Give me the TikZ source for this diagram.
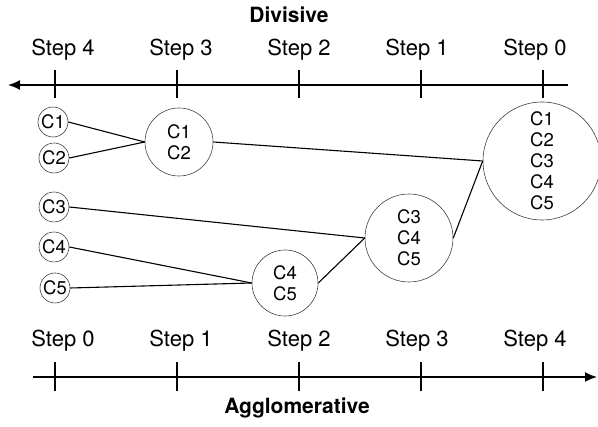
\documentclass[tikz,border=0pt]{standalone}
\usepackage{fontspec}
\setmainfont{TeX Gyre Heros}
\usetikzlibrary{arrows.meta, positioning}
\tikzset{
    clus/.style={draw=black!75, circle, inner sep=0pt, line width=0.6pt, align=center, font=\fontsize{18.5}{21}\selectfont},
    eje/.style={line width=1.6pt, -{Latex[length=12pt, width=10pt]}},
    marca/.style={line width=1.6pt},
    enlace/.style={line width=1.1pt},
    paso/.style={font=\fontsize{22}{26}\selectfont},
    titulo/.style={font=\fontsize{21}{25}\selectfont\bfseries},
}

\begin{document}
\begin{tikzpicture}[x=1pt, y=-1pt]
\useasboundingbox (0,0) rectangle (598,427);
% Divisive axis
\node[titulo] (div) at (289,15) {Divisive};
\coordinate (supD) at (568,85);
\coordinate (supI) at (8,85);
\draw[eje] (supD) -- (supI);
\foreach \x in {55,177,299,421,543} {
    \draw[marca] (\x,70) -- (\x,98);
}
\foreach \n/\x in {4/63, 3/181, 2/299, 1/417, 0/535} {
    \node[paso] (sup\n) at (\x,50) {Step \n};
}
% Agglomerative axis
\coordinate (infI) at (33,377);
\coordinate (infD) at (597,377);
\draw[eje] (infI) -- (infD);
\foreach \x in {55,177,299,421,543} {
    \draw[marca] (\x,362) -- (\x,391);
}
\foreach \n/\x in {0/63, 1/181, 2/299, 3/417, 4/535} {
    \node[paso] (inf\n) at (\x,341) {Step \n};
}
\node[titulo] (agl) at (297,408) {Agglomerative};
% clusters
\node[clus, minimum size=30pt] (c1) at (53,122) {C1};
\node[clus, minimum size=30pt] (c2) at (54,158) {C2};
\node[clus, minimum size=30pt] (c3) at (54,207) {C3};
\node[clus, minimum size=30pt] (c4) at (54,247) {C4};
\node[clus, minimum size=30pt] (c5) at (55,288) {C5};
\node[clus, minimum size=68pt] (c12) at (179,142) {C1\\C2};
\node[clus, minimum size=66pt] (c45) at (285,283) {C4\\C5};
\node[clus, minimum size=88pt] (c345) at (409,238) {C3\\C4\\C5};
\node[clus, minimum size=118pt] (todo) at (542,161) {C1\\C2\\C3\\C4\\C5};
% merges
\draw[enlace] (c1.east) -- (c12.west);
\draw[enlace] (c2.east) -- (c12.west);
\draw[enlace] (c4.east) -- (c45.west);
\draw[enlace] (c5.east) -- (c45.west);
\draw[enlace] (c3.east) -- (c345.west);
\draw[enlace] (c45.east) -- (c345.west);
\draw[enlace] (c12.east) -- (todo.west);
\draw[enlace] (c345.east) -- (todo.west);
\end{tikzpicture}
\end{document}
